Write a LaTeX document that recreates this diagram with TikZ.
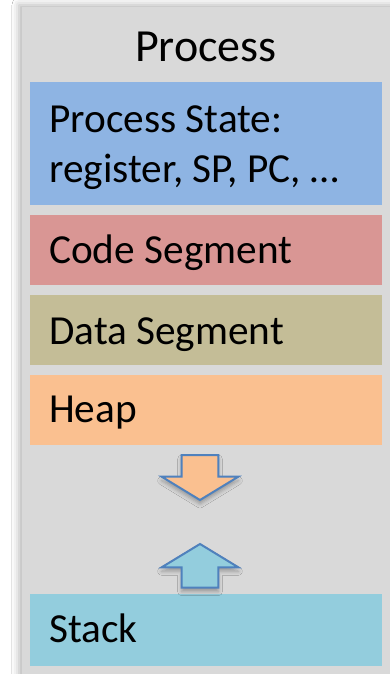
\documentclass[tikz,border=0pt]{standalone}
\usepackage{fontspec}
\setmainfont{Carlito}
\usetikzlibrary{shadows.blur}
\definecolor{panel}{HTML}{D9D9D9}
\definecolor{statecol}{HTML}{8EB4E3}
\definecolor{codecol}{HTML}{D99694}
\definecolor{datacol}{HTML}{C4BD97}
\definecolor{heapcol}{HTML}{FAC090}
\definecolor{stackcol}{HTML}{93CDDD}
\definecolor{arrowline}{HTML}{4F81BD}
\begin{document}
\begin{tikzpicture}[x=1bp,y=-1bp,
  seg/.style={rectangle, draw=none, inner sep=0pt, minimum width=352bp, anchor=north west},
  segtext/.style={anchor=base west, inner sep=0pt, font=\fontsize{41.3bp}{49bp}\selectfont},
  growarrow/.style={draw=arrowline, line width=2bp, line join=miter,
    blur shadow={shadow xshift=0bp, shadow yshift=-4bp, shadow blur radius=4bp, shadow opacity=30}}]
\useasboundingbox (0,0) rectangle (389,674);
\fill[white] (0,0) rectangle (389,674);
% process panel, running past the right and bottom edges
\path[fill=panel, blur shadow={shadow xshift=-3bp, shadow yshift=2bp, shadow blur radius=7bp, shadow opacity=30}]
  (22,7) rectangle (430,720);
\node[anchor=base, inner sep=0pt, font=\fontsize{46bp}{55bp}\selectfont] (title) at (206,62) {Process};
% memory segments
\node[seg, fill=statecol, minimum height=123bp] (state) at (30,82) {};
\node[seg, fill=codecol, minimum height=70bp] (code) at (30,215) {};
\node[seg, fill=datacol, minimum height=70bp] (data) at (30,295) {};
\node[seg, fill=heapcol, minimum height=70bp] (heap) at (30,375) {};
\node[seg, fill=stackcol, minimum height=72bp] (stack) at (30,594) {};
% segment labels
\node[segtext] (statel1) at (49,133) {Process State:};
\node[segtext] (statel2) at (49,182) {register, SP, PC, …};
\node[segtext] (codel) at (49,263.5) {Code Segment};
\node[segtext] (datal) at (49,344) {Data Segment};
\node[segtext] (heapl) at (49,422) {Heap};
\node[segtext] (stackl) at (49,642) {Stack};
% heap grows downward, stack grows upward
\draw[growarrow, fill=heapcol]
  (181.7,455) -- (218.3,455) -- (218.3,476.7) -- (238.3,476.7) -- (200,500)
  -- (161.7,476.7) -- (181.7,476.7) -- cycle;
\draw[growarrow, fill=stackcol]
  (200,544) -- (238.3,567.3) -- (218.3,567.3) -- (218.3,587.7) -- (181.7,587.7)
  -- (181.7,567.3) -- (161.7,567.3) -- cycle;
\end{tikzpicture}
\end{document}
